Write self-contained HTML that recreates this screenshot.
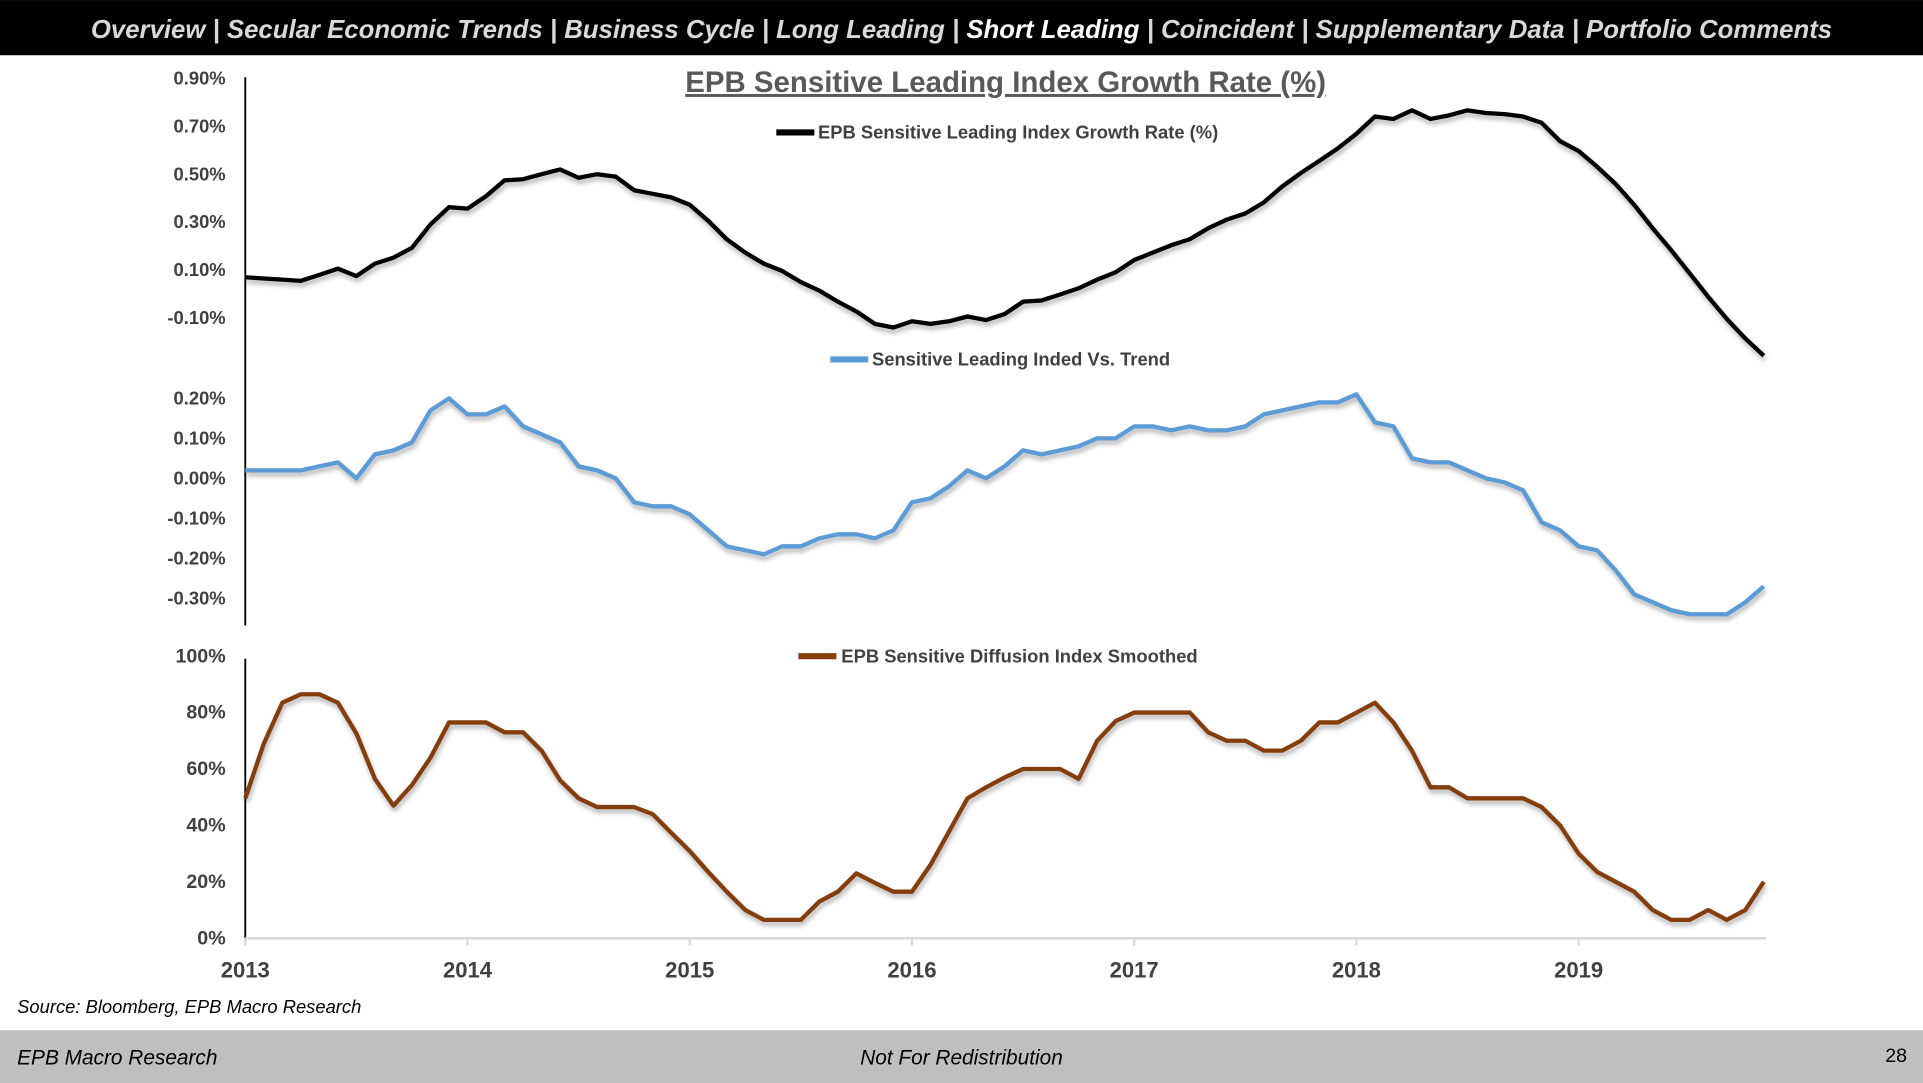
<!DOCTYPE html>
<html><head><meta charset="utf-8"><style>
html,body{margin:0;padding:0;background:#fff;}
svg{display:block;font-family:"Liberation Sans",sans-serif;}
</style></head><body>
<svg id="c" width="1923" height="1083" viewBox="0 0 1568 883" xmlns="http://www.w3.org/2000/svg">
<defs><filter id="sh" x="-5%" y="-5%" width="110%" height="120%"><feDropShadow dx="1" dy="3" stdDeviation="2" flood-color="#000" flood-opacity="0.3"/></filter></defs>
<rect x="0" y="0" width="1568" height="45" fill="#000"/>
<text x="784" y="31" text-anchor="middle" fill="#d9d9d9" font-size="21" font-weight="bold" font-style="italic">Overview | Secular Economic Trends | Business Cycle | Long Leading | <tspan fill="#fff">Short Leading</tspan> | Coincident | Supplementary Data | Portfolio Comments</text>
<text x="820" y="75" text-anchor="middle" fill="#595959" font-size="24" font-weight="bold" text-decoration="underline">EPB Sensitive Leading Index Growth Rate (%)</text>
<line x1="200" y1="63" x2="200" y2="510" stroke="#000" stroke-width="1.5"/>
<line x1="200" y1="537" x2="200" y2="765" stroke="#000" stroke-width="1.5"/>
<line x1="200" y1="765" x2="1440" y2="765" stroke="#d9d9d9" stroke-width="2"/>
<g id="g"></g>
<g><line x1="633" y1="108" x2="664" y2="108" stroke="#000" stroke-width="5"/><text x="667" y="113" font-size="15" font-weight="bold" fill="#404040">EPB Sensitive Leading Index Growth Rate (%)</text></g>
<g><line x1="677" y1="293" x2="708" y2="293" stroke="#5b9bd5" stroke-width="5"/><text x="711" y="298" font-size="15" font-weight="bold" fill="#404040">Sensitive Leading Inded Vs. Trend</text></g>
<g><line x1="651" y1="535" x2="682" y2="535" stroke="#843c0c" stroke-width="5"/><text x="686" y="540" font-size="15" font-weight="bold" fill="#404040">EPB Sensitive Diffusion Index Smoothed</text></g>
<text x="14" y="826" font-size="15" font-style="italic" fill="#000">Source: Bloomberg, EPB Macro Research</text>
<rect x="0" y="840" width="1568" height="43" fill="#bfbfbf"/>
<text x="14" y="868" font-size="17" font-style="italic">EPB Macro Research</text>
<text x="784" y="868" text-anchor="middle" font-size="17" font-style="italic">Not For Redistribution</text>
<text x="1555" y="866" text-anchor="end" font-size="16">28</text>
</svg>
<script>
const years=["2013","2014","2015","2016","2017","2018","2019"];
const topTicks=["0.90%","0.70%","0.50%","0.30%","0.10%","-0.10%"];
const topTickVals=[0.9,0.7,0.5,0.3,0.1,-0.1];
const midTicks=["0.20%","0.10%","0.00%","-0.10%","-0.20%","-0.30%"];
const midTickVals=[0.2,0.1,0,-0.1,-0.2,-0.3];
const botTicks=["100%","80%","60%","40%","20%","0%"];
const botTickVals=[100,80,60,40,20,0];
const growth=[0.069,0.064,0.059,0.054,0.079,0.105,0.074,0.126,0.151,0.192,0.29,0.362,0.356,0.408,0.474,0.479,0.5,0.52,0.485,0.5,0.49,0.433,0.418,0.403,0.372,0.305,0.228,0.172,0.126,0.095,0.049,0.013,-0.033,-0.074,-0.126,-0.141,-0.115,-0.126,-0.115,-0.095,-0.11,-0.085,-0.033,-0.028,-0.003,0.023,0.059,0.09,0.141,0.172,0.203,0.228,0.274,0.31,0.336,0.382,0.449,0.505,0.556,0.608,0.669,0.741,0.731,0.767,0.731,0.746,0.767,0.756,0.751,0.741,0.715,0.638,0.597,0.531,0.459,0.372,0.274,0.182,0.085,-0.013,-0.105,-0.187,-0.259];
const vsTrendY=[385,382,383,385,381,377,389,372,367,361,336,324,339,338,332,348,355,360,379,383,390,410,413,414,418,431,446,450,453,446,445,439,437,436,438,432,411,406,396,384,389,381,367,370,366,365,358,357,348,349,351,349,350,352,349,338,333,332,328,327,321,343,348,375,378,378,385,389,392,400,426,433,446,449,466,484,490,497,500,501,501,492,479];
const vsTrend=vsTrendY.map(y=>Math.round((390-y)*0.3067)/100);
const diffusion=[49.6,69,83.5,86.5,86.5,83.5,72.6,56.5,47,54.3,64,76.5,76.5,76.5,73,73,66.5,56,49.6,46.5,46.5,46.5,44,37.4,30.9,23.5,16.5,10,6.5,6.5,6.5,13,16.5,23,19.6,16.5,16.5,26,37.8,49.6,53.5,57,60,60,60,56.5,70,77,80,80,80,80,73,70,70,66.5,66.5,70,76.5,76.5,80,83.5,76.5,66.5,53.5,53.5,49.6,49.6,49.6,49.6,46.5,40,30,23.5,20,16.5,10,6.5,6.5,10,6.5,10,20];
const NS="http://www.w3.org/2000/svg";
const g=document.getElementById('g');
const x=i=>200+i*15.1;
const yTop=v=>220-(v-0.1)*195;
const yMid=v=>390-v*326;
const yBot=v=>765-v*2.3;
function mk(t,a){const e=document.createElementNS(NS,t);for(const k in a)e.setAttribute(k,a[k]);g.appendChild(e);return e;}
function ticks(labels,vals,fy,size){labels.forEach((l,i)=>{const t=mk('text',{x:184,y:fy(vals[i])+5,'text-anchor':'end','font-size':size,'font-weight':'bold',fill:'#404040'});t.textContent=l;

});}
ticks(topTicks,topTickVals,yTop,15);
ticks(midTicks,midTickVals,yMid,15);
ticks(botTicks,botTickVals,yBot,16);
years.forEach((yr,i)=>{const xx=x(i*12);
const l=mk('line',{x1:xx,y1:765,x2:xx,y2:771,stroke:'#d9d9d9','stroke-width':2});


const t=mk('text',{x:xx,y:797,'text-anchor':'middle','font-size':18,'font-weight':'bold',fill:'#404040'});t.textContent=yr;

});
function line(data,fy,col,w,name){const p=mk('polyline',{points:data.map((v,i)=>x(i)+','+fy(v)).join(' '),fill:'none',stroke:col,'stroke-width':w,'stroke-linejoin':'round',filter:'url(#sh)'});

}
line(growth,yTop,'#000',3.5,'growth-rate-line');
line(vsTrend,yMid,'#5b9bd5',3.5,'vs-trend-line');
line(diffusion,yBot,'#843c0c',3.5,'diffusion-line');
</script>
</body></html>
